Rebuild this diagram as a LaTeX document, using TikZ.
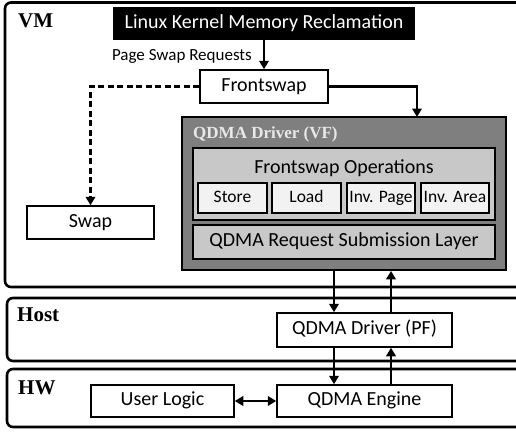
\documentclass[tikz,border=0pt]{standalone}
\usepackage{fontspec}
\setmainfont{Carlito}
\newfontfamily\titlefont{Liberation Serif}
\usetikzlibrary{arrows.meta,calc}
\definecolor{vfgray}{HTML}{7F7F7F}
\definecolor{opsgray}{HTML}{C8C8C8}
\definecolor{subgray}{HTML}{F2F2F2}
\definecolor{vftext}{HTML}{E8E8E8}
\begin{document}
\begin{tikzpicture}[x=1pt,y=-1pt,
  frame/.style={draw=black,line width=2.6pt,rounded corners=6pt},
  box/.style={draw=black,line width=1.5pt,fill=white,inner sep=0pt,text height=0.9em,text depth=0em,font=\fontsize{20}{24}\selectfont},
  subbox/.style={draw=black,line width=1.5pt,fill=subgray,inner sep=0pt,text height=0.86em,text depth=0em,font=\fontsize{17.5}{20}\selectfont,minimum width=69pt,minimum height=30pt},
  ttl/.style={inner sep=0pt,anchor=base west,font=\titlefont\bfseries\fontsize{21}{24}\selectfont},
  arr/.style={line width=2.2pt,-{Triangle[length=8.5pt,width=9.5pt]}},
  darr/.style={line width=2.2pt,{Triangle[length=8.5pt,width=9.5pt]}-{Triangle[length=8.5pt,width=9.5pt]}},
  dsh/.style={line width=2.2pt,dash pattern=on 6pt off 3.5pt,-{Triangle[length=8.5pt,width=9.5pt]}}
]
\useasboundingbox (0,0) rectangle (516,431);
\begin{scope}
\clip (0,0) rectangle (516,431);
% frames
\draw[frame] (5,2.5) rectangle (540,287);
\draw[frame] (7,298) rectangle (540,361);
\draw[frame] (7,369) rectangle (540,427);
\end{scope}
\node[ttl] (tvm) at (18,27.3) {VM};
\node[ttl] (thost) at (17,321.7) {Host};
\node[ttl] (thw) at (18,394) {HW};

% VM contents
\node[box,fill=black,text=white,minimum width=300pt,minimum height=31pt] (lkmr) at (264,23.5) {Linux Kernel Memory Reclamation};
\node[box,minimum width=128pt,minimum height=33pt] (fs) at (264,86.5) {Frontswap};
\node[inner sep=0pt,anchor=base east,font=\fontsize{17}{20}\selectfont] (psr) at (252,60) {Page Swap Requests};
\node[box,minimum width=127pt,minimum height=33pt] (swap) at (90.5,222.5) {Swap};

\node[draw=black,line width=1.8pt,fill=vfgray,minimum width=324pt,minimum height=153pt,inner sep=0pt] (vf) at (344,193.5) {};
\node[ttl,text=vftext,font=\titlefont\bfseries\fontsize{17}{20}\selectfont] (tvf) at (193,138.3) {QDMA Driver (VF)};
\node[draw=black,line width=1.6pt,fill=opsgray,minimum width=302pt,minimum height=72pt,inner sep=0pt] (ops) at (344,184) {};
\node[inner sep=0pt,anchor=base,font=\fontsize{20}{24}\selectfont] (tops) at (344,173.3) {Frontswap Operations};
\node[subbox] (store) at (232.5,198) {Store};
\node[subbox] (load) at (306.5,198) {Load};
\node[subbox,minimum width=68pt] (invp) at (381,198) {Inv. Page};
\node[subbox,minimum width=68pt] (inva) at (455,198) {Inv. Area};
\node[box,fill=opsgray,line width=1.6pt,minimum width=302pt,minimum height=34pt] (qrsl) at (344,242) {QDMA Request Submission Layer};

% Host / HW
\node[box,minimum width=175pt,minimum height=34pt] (pf) at (364.5,330) {QDMA Driver (PF)};
\node[box,minimum width=175pt,minimum height=32pt] (eng) at (364.5,401) {QDMA Engine};
\node[box,minimum width=143pt,minimum height=32pt] (ul) at (162.5,401) {User Logic};

\coordinate (dn) at (334,0);
\coordinate (up) at (391,0);
\coordinate (vfin) at (417,117);

% connectors
\draw[arr] (lkmr.south) -- (fs.north);
\draw[dsh] (fs.west) -| (swap.north);
\draw[arr] (fs.east) -| (vfin);
\draw[arr] (vf.south -| dn) -- (pf.north -| dn);
\draw[arr] (pf.north -| up) -- (vf.south -| up);
\draw[arr] (pf.south -| dn) -- (eng.north -| dn);
\draw[arr] (eng.north -| up) -- (pf.south -| up);
\draw[darr] (ul.east) -- (eng.west);
\end{tikzpicture}
\end{document}
